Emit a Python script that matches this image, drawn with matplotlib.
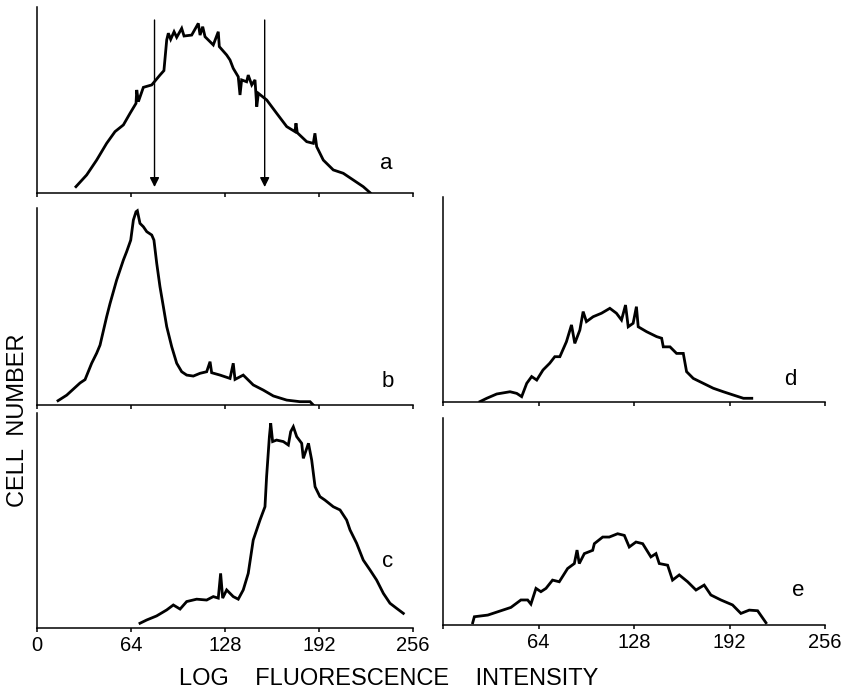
import matplotlib
matplotlib.use("Agg")
import matplotlib.pyplot as plt

plt.rcParams['font.family'] = ['Liberation Sans', 'DejaVu Sans']

# channel number (0-256) and cell number (% of panel height)
a_x = [26.5, 33.8, 40.6, 47.4, 53.1, 58.8, 63.3, 67.4, 67.9, 69.0, 72.4, 78.1, 83.7, 86.4,
       88.3, 89.4, 91.0, 93.3, 95.1, 98.5, 100.1, 105.3, 109.8, 111.0, 112.8, 114.4, 120.0,
       123.4, 124.1, 129.1, 131.4, 133.6, 137.0, 138.2, 139.3, 142.7, 143.8, 146.2, 148.4,
       149.6, 150.7, 156.4, 163.2, 170.0, 175.6, 176.3, 177.2, 183.6, 188.1, 189.2, 190.4,
       194.9, 201.7, 208.5, 215.3, 222.1, 226.7]
a_y = [3.4, 9.7, 17.7, 26.7, 33.0, 36.6, 42.8, 48.2, 55.4, 49.1, 56.8, 58.1, 63.4, 65.8,
       82.3, 85.9, 82.6, 86.7, 83.7, 88.5, 84.4, 84.9, 91.2, 84.9, 89.4, 84.0, 79.6,
       86.7, 78.7, 74.2, 71.5, 67.0, 62.5, 52.7, 60.8, 59.8, 63.4, 58.1, 60.8,
       46.4, 53.6, 50.0, 42.8, 35.7, 33.0, 37.5, 32.4, 27.6, 26.7, 32.1, 24.9,
       17.7, 12.4, 10.6, 7.0, 3.4, 0.2]

b_x = [14.3, 20.2, 29.3, 32.7, 37.2, 40.6, 42.9, 47.4, 49.7, 54.2, 58.8, 61.0, 63.8, 65.6,
       67.4, 68.3, 70.1, 72.4, 74.7, 78.1, 79.6, 81.5, 83.7, 86.0, 88.3, 91.7, 95.1, 98.5,
       101.9, 106.4, 111.0, 115.5, 117.8, 118.9, 124.6, 131.4, 133.6, 134.8, 140.4, 147.2,
       154.0, 160.9, 170.0, 179.0, 185.9, 188.1]
b_y = [2.2, 5.0, 11.2, 12.9, 21.2, 26.3, 30.4, 44.8, 51.5, 63.4, 73.6, 77.8, 83.7, 93.9,
       98.1, 98.6, 92.2, 90.5, 88.0, 86.3, 83.7, 71.9, 60.1, 50.0, 39.8, 29.6, 21.2, 16.9,
       15.2, 14.7, 16.1, 16.9, 22.0, 16.4, 15.2, 13.5, 21.2, 13.0, 15.2, 10.2,
       7.6, 4.6, 2.5, 1.7, 1.7, 0.0]

c_x = [70.1, 74.6, 81.4, 88.3, 92.8, 97.4, 101.9, 108.7, 115.5, 120.0, 123.4, 125.0, 126.4,
       129.1, 133.6, 137.0, 140.4, 143.8, 147.2, 151.8, 155.2, 156.3, 158.2, 159.1, 160.4,
       163.1, 167.7, 171.1, 172.7, 174.5, 176.8, 180.2, 181.3, 184.8, 187.0, 189.3, 192.6,
       196.0, 201.7, 206.3, 210.8, 213.1, 217.6, 222.1, 226.7, 231.2, 235.8, 240.3, 244.9, 249.4]
c_y = [2.2, 3.7, 5.6, 8.4, 10.7, 8.8, 12.3, 13.4, 13.0, 14.6, 13.9, 25.4, 13.9,
       17.7, 14.6, 13.4, 17.7, 25.4, 40.9, 50.2, 56.4, 70.4, 89.0, 95.2, 86.7,
       87.4, 86.7, 85.1, 91.3, 93.6, 89.0, 85.9, 78.9, 85.9, 78.1, 65.7, 61.1,
       59.5, 56.4, 54.9, 50.2, 45.6, 39.4, 31.6, 27.0, 22.3, 16.1, 11.5, 9.1, 6.8]

d_x = [24.8, 29.3, 36.0, 44.9, 49.4, 52.7, 56.1, 59.4, 62.8, 67.0, 71.5, 74.9, 78.3, 82.7,
       86.1, 88.3, 91.7, 93.9, 96.1, 100.6, 106.2, 111.8, 116.2, 119.6, 122.3, 124.1, 127.4,
       129.6, 130.8, 136.4, 143.1, 146.5, 147.6, 152.1, 156.5, 161.0, 163.2, 167.7, 174.4,
       181.1, 187.8, 194.5, 201.3, 206.9]
d_y = [0.2, 1.8, 3.9, 5.0, 4.2, 2.6, 9.1, 12.4, 10.7, 15.6, 18.9, 22.1, 22.1, 29.4,
       37.6, 28.6, 35.1, 44.1, 39.2, 41.6, 43.3, 45.7, 43.3, 40.0, 47.3, 36.7, 38.4,
       46.5, 36.7, 34.3, 31.9, 31.1, 26.9, 26.9, 23.7, 23.7, 14.8, 11.5, 9.1,
       6.7, 5.0, 3.4, 1.8, 1.8]

e_x = [19.9, 21.0, 30.0, 38.8, 45.5, 52.2, 56.7, 58.9, 62.3, 65.6, 69.0, 73.4, 77.9, 83.5,
       88.0, 89.8, 91.3, 94.7, 100.3, 101.4, 107.0, 111.4, 117.0, 121.5, 124.8, 129.3, 133.8,
       139.3, 142.7, 144.9, 150.5, 153.8, 158.3, 163.9, 169.5, 175.0, 179.5, 186.2, 194.0,
       199.6, 205.2, 210.8, 216.4]
e_y = [1.1, 4.0, 4.8, 6.9, 8.5, 12.1, 12.1, 10.1, 17.7, 16.1, 17.7, 21.7, 20.9, 27.3,
       29.7, 36.2, 29.7, 34.5, 36.1, 39.3, 42.5, 42.5, 44.1, 43.3, 37.7, 40.1, 39.3,
       32.9, 34.5, 29.7, 28.9, 21.7, 24.2, 20.9, 16.9, 19.3, 14.5, 12.1, 9.7,
       5.6, 7.2, 6.9, 1.1]

# gate markers in panel a
arrow_x = [80, 155]

tick_vals = [0, 64, 128, 192, 256]
tick_labels = ['0', '64', '128', '192', '256']

# panel layout: [left, bottom, width, height] in figure fraction, label position
panels = [
    ('a', a_x, a_y, [0.0436, 0.7211, 0.4429, 0.2688], (238, 16), None),
    ('b', b_x, b_y, [0.0436, 0.4147, 0.4429, 0.2847], (239, 12), None),
    ('c', c_x, c_y, [0.0436, 0.0925, 0.4429, 0.3107], (239, 31), tick_labels),
    ('d', d_x, d_y, [0.5218, 0.4191, 0.4500, 0.2962], (233, 11), None),
    ('e', e_x, e_y, [0.5218, 0.0968, 0.4500, 0.2991], (238, 16.5), [''] + tick_labels[1:]),
]

fig = plt.figure(figsize=(8.49, 6.92), dpi=100)

for name, xs, ys, rect, lab, labels in panels:
    ax = fig.add_axes(rect)
    ax.plot(xs, ys, color='black', linewidth=2.0, solid_joinstyle='miter')
    ax.set_xlim(0, 256)
    ax.set_ylim(0, 100)
    ax.spines['top'].set_visible(False)
    ax.spines['right'].set_visible(False)
    ax.spines['left'].set_linewidth(1.1)
    ax.spines['bottom'].set_linewidth(1.1)
    ax.set_yticks([])
    ax.set_xticks(tick_vals)
    ax.tick_params(axis='x', direction='out', length=3, width=1.1, pad=3, labelsize=14.5)
    if labels is None:
        ax.set_xticklabels([])
    else:
        ax.set_xticklabels(labels)
    ax.text(lab[0], lab[1], name, fontsize=16, ha='center', va='center')
    if name == 'a':
        for ax_x in arrow_x:
            ax.annotate('', xy=(ax_x, 3.2), xytext=(ax_x, 93),
                        arrowprops=dict(arrowstyle='-|>', color='black', lw=1.0,
                                        mutation_scale=14, shrinkA=0, shrinkB=0))

fig.text(0.021, 0.393, 'CELL  NUMBER', rotation=90, fontsize=17, ha='center', va='center')
fig.text(0.458, 0.0195, 'LOG    FLUORESCENCE    INTENSITY', fontsize=17, ha='center', va='center')

fig.savefig('out.png', dpi=100, facecolor='white')
